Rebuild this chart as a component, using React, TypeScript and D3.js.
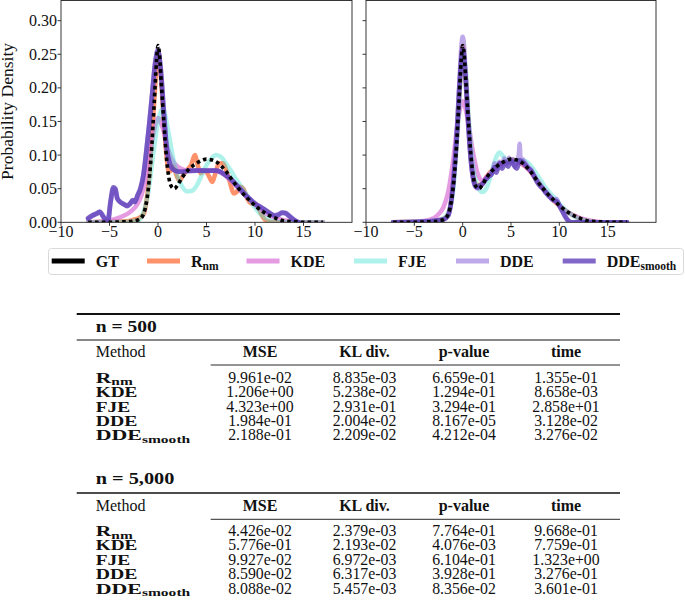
import React from 'react';
import * as d3 from 'd3';

type Pt = [number, number];

// ---------- axis ticks ----------
const xTickValues = [-10, -5, 0, 5, 10, 15];
const yTickValues = [0, 0.05, 0.1, 0.15, 0.2, 0.25, 0.3];

// ---------- density curves (x, density) ----------
const gtDensity: Pt[] = [
  [-7.2, 0], [-5, 0], [-4, 0.0005], [-3, 0.001], [-2.5, 0.002], [-2, 0.004], [-1.6, 0.009], [-1.3, 0.022],
  [-1.0, 0.05], [-0.7, 0.1], [-0.4, 0.175], [-0.15, 0.24], [0, 0.263], [0.15, 0.25], [0.35, 0.205], [0.6, 0.15],
  [0.85, 0.1], [1.1, 0.068], [1.4, 0.053], [1.7, 0.05], [2.0, 0.055], [2.5, 0.067], [3.0, 0.076], [3.5, 0.083],
  [4.0, 0.088], [4.5, 0.092], [5.0, 0.094], [5.5, 0.093], [6.0, 0.09], [6.5, 0.084], [7.0, 0.076], [7.5, 0.066],
  [8.0, 0.056], [8.5, 0.047], [9.0, 0.039], [9.5, 0.032], [10.0, 0.025], [10.5, 0.019], [11.0, 0.014], [11.5, 0.01],
  [12.0, 0.007], [12.5, 0.004], [13.0, 0.002], [14.0, 0.001], [15.0, 0], [17.0, 0],
];

// n = 500
const rnm500: Pt[] = [
  [-7.2, 0], [-5, 0.001], [-3, 0.002], [-2.5, 0.004], [-2, 0.006], [-1.5, 0.012], [-1.2, 0.03], [-0.9, 0.07],
  [-0.6, 0.13], [-0.3, 0.2], [0, 0.255], [0.3, 0.215], [0.6, 0.15], [0.9, 0.095], [1.1, 0.075], [1.4, 0.078],
  [1.6, 0.084], [1.9, 0.07], [2.2, 0.062], [2.6, 0.07], [3.0, 0.078], [3.4, 0.085], [3.8, 0.1], [4.1, 0.085],
  [4.4, 0.073], [4.8, 0.078], [5.2, 0.07], [5.6, 0.06], [5.9, 0.072], [6.3, 0.088], [6.7, 0.088], [7.1, 0.075],
  [7.5, 0.055], [7.8, 0.043], [8.1, 0.045], [8.5, 0.053], [8.8, 0.05], [9.2, 0.035], [9.6, 0.028], [10, 0.027],
  [10.4, 0.02], [10.8, 0.008], [11.2, 0.002], [12, 0], [17, 0],
];
const kde500: Pt[] = [
  [-7.2, 0], [-6, 0.001], [-5, 0.003], [-4, 0.007], [-3.5, 0.01], [-3, 0.014], [-2.5, 0.02], [-2, 0.03],
  [-1.5, 0.05], [-1, 0.085], [-0.5, 0.13], [0, 0.155], [0.5, 0.14], [1, 0.11], [1.5, 0.092], [2, 0.083],
  [2.5, 0.079], [3, 0.077], [4, 0.077], [5, 0.077], [6, 0.076], [6.5, 0.074], [7, 0.069], [7.5, 0.062],
  [8, 0.055], [8.5, 0.047], [9, 0.04], [9.5, 0.033], [10, 0.026], [10.5, 0.02], [11, 0.014], [11.5, 0.01],
  [12, 0.007], [12.5, 0.005], [13, 0.003], [13.5, 0.002], [14, 0.001], [15, 0], [17, 0],
];
const fje500: Pt[] = [
  [-7.2, 0], [-3, 0.001], [-2, 0.003], [-1.5, 0.015], [-1, 0.045], [-0.5, 0.1], [0, 0.15], [0.5, 0.17],
  [1.0, 0.14], [1.5, 0.1], [2.0, 0.07], [2.5, 0.053], [3.0, 0.046], [3.5, 0.047], [4, 0.055], [4.5, 0.07],
  [5, 0.085], [5.5, 0.095], [6, 0.1], [6.5, 0.097], [7, 0.088], [7.5, 0.077], [8, 0.065], [8.5, 0.055],
  [9, 0.044], [9.5, 0.033], [10, 0.022], [10.5, 0.013], [11, 0.007], [11.5, 0.003], [12, 0.001], [13, 0], [17, 0],
];
const dde500: Pt[] = [
  [-7.2, 0.005], [-6.8, 0.009], [-6.3, 0.014], [-6.0, 0.015], [-5.7, 0.009], [-5.4, 0.004], [-5.15, 0.004],
  [-4.9, 0.028], [-4.6, 0.05], [-4.4, 0.048], [-4.2, 0.035], [-3.9, 0.031], [-3.5, 0.026], [-3.2, 0.025],
  [-2.9, 0.028], [-2.6, 0.032], [-2.4, 0.031], [-2.1, 0.041], [-1.8, 0.052], [-1.5, 0.072], [-1.2, 0.108],
  [-0.9, 0.148], [-0.6, 0.192], [-0.3, 0.238], [0, 0.258], [0.3, 0.222], [0.6, 0.16], [0.9, 0.108],
  [1.2, 0.086], [1.5, 0.079], [2.0, 0.075], [2.5, 0.076], [3.0, 0.077], [4.0, 0.078], [5.0, 0.076],
  [6.0, 0.078], [6.5, 0.074], [7.0, 0.069], [7.5, 0.065], [8.0, 0.056], [8.5, 0.05], [9.0, 0.04],
  [9.5, 0.035], [10.0, 0.027], [10.5, 0.024], [11.0, 0.018], [11.5, 0.013], [12.0, 0.011], [12.4, 0.012],
  [12.8, 0.015], [13.1, 0.013], [13.5, 0.009], [14.0, 0.004], [14.5, 0],
];
const ddeSmooth500: Pt[] = [
  [-7.2, 0.006], [-6.8, 0.01], [-6.3, 0.013], [-6.0, 0.016], [-5.7, 0.01], [-5.4, 0.004], [-5.15, 0.003],
  [-4.9, 0.03], [-4.6, 0.052], [-4.4, 0.05], [-4.2, 0.036], [-3.9, 0.03], [-3.5, 0.027], [-3.2, 0.024],
  [-2.9, 0.027], [-2.6, 0.033], [-2.4, 0.03], [-2.1, 0.04], [-1.8, 0.05], [-1.5, 0.07], [-1.2, 0.105],
  [-0.9, 0.145], [-0.6, 0.19], [-0.3, 0.235], [0, 0.255], [0.3, 0.225], [0.6, 0.165], [0.9, 0.11],
  [1.2, 0.088], [1.5, 0.08], [2.0, 0.076], [2.5, 0.075], [3.0, 0.076], [4.0, 0.077], [5.0, 0.077],
  [6.0, 0.077], [6.5, 0.075], [7.0, 0.07], [7.5, 0.064], [8.0, 0.057], [8.5, 0.049], [9.0, 0.041],
  [9.5, 0.034], [10.0, 0.028], [10.5, 0.023], [11.0, 0.019], [11.5, 0.014], [12.0, 0.01], [12.4, 0.011],
  [12.8, 0.014], [13.1, 0.014], [13.5, 0.01], [14.0, 0.004], [14.5, 0],
];

// n = 5,000
const rnm5000: Pt[] = [
  [-7.2, 0], [-3, 0.002], [-2, 0.005], [-1.5, 0.012], [-1.2, 0.03], [-0.9, 0.07], [-0.6, 0.125], [-0.3, 0.2],
  [0, 0.262], [0.3, 0.22], [0.6, 0.15], [0.9, 0.09], [1.2, 0.062], [1.5, 0.055], [2, 0.057], [2.5, 0.068],
  [3, 0.077], [3.5, 0.083], [4, 0.088], [4.5, 0.09], [5, 0.093], [5.5, 0.092], [6, 0.088], [6.5, 0.083],
  [7, 0.076], [7.5, 0.066], [8, 0.056], [8.5, 0.047], [9, 0.039], [9.5, 0.031], [10, 0.025], [10.5, 0.019],
  [11, 0.014], [11.5, 0.01], [12, 0.006], [13, 0.002], [14, 0], [17, 0],
];
const kde5000: Pt[] = [
  [-7.2, 0], [-4, 0.002], [-3, 0.006], [-2.5, 0.012], [-2, 0.022], [-1.5, 0.045], [-1, 0.09], [-0.5, 0.15],
  [0, 0.18], [0.5, 0.155], [1, 0.11], [1.5, 0.075], [2, 0.062], [2.5, 0.068], [3, 0.076], [3.5, 0.083],
  [4, 0.087], [4.5, 0.09], [5, 0.091], [5.5, 0.09], [6, 0.088], [6.5, 0.083], [7, 0.076], [7.5, 0.067],
  [8, 0.057], [8.5, 0.048], [9, 0.04], [9.5, 0.032], [10, 0.025], [10.5, 0.019], [11, 0.014], [12, 0.007],
  [13, 0.003], [14, 0.001], [15, 0], [17, 0],
];
const fje5000: Pt[] = [
  [-7.2, 0], [-3, 0.002], [-2, 0.006], [-1.5, 0.014], [-1, 0.045], [-0.5, 0.14], [0, 0.25], [0.3, 0.23],
  [0.6, 0.16], [1, 0.09], [1.5, 0.055], [2, 0.045], [2.5, 0.052], [3, 0.075], [3.5, 0.098], [3.8, 0.104],
  [4.2, 0.098], [4.6, 0.092], [5, 0.09], [5.5, 0.091], [6, 0.092], [6.5, 0.091], [7, 0.085], [7.5, 0.075],
  [8, 0.064], [8.5, 0.053], [9, 0.044], [9.5, 0.036], [10, 0.028], [10.5, 0.02], [11, 0.014], [11.5, 0.009],
  [12, 0.005], [13, 0.002], [14, 0], [17, 0],
];
const dde5000: Pt[] = [
  [-7.2, 0], [-4, 0.001], [-3, 0.002], [-2, 0.004], [-1.5, 0.01], [-1.2, 0.03], [-0.9, 0.075], [-0.6, 0.14],
  [-0.3, 0.22], [-0.1, 0.268], [0, 0.276], [0.15, 0.262], [0.3, 0.22], [0.5, 0.17], [0.7, 0.12], [0.9, 0.085],
  [1.1, 0.065], [1.3, 0.053], [1.6, 0.05], [1.9, 0.054], [2.2, 0.06], [2.5, 0.066], [2.8, 0.07], [3.1, 0.074],
  [3.3, 0.088], [3.5, 0.078], [3.8, 0.09], [4.0, 0.083], [4.3, 0.095], [4.5, 0.086], [4.8, 0.096], [5.0, 0.088],
  [5.2, 0.094], [5.4, 0.082], [5.6, 0.09], [5.8, 0.1], [5.9, 0.117], [6.0, 0.09], [6.2, 0.094], [6.5, 0.088],
  [6.8, 0.082], [7.1, 0.078], [7.4, 0.07], [7.7, 0.062], [8.0, 0.056], [8.3, 0.05], [8.6, 0.045], [9.0, 0.038],
  [9.4, 0.032], [9.7, 0.035], [10, 0.026], [10.3, 0.018], [10.6, 0.01], [10.9, 0.004], [11.2, 0], [17, 0],
];
const ddeSmooth5000: Pt[] = [
  [-7.2, 0], [-4, 0.001], [-3, 0.002], [-2, 0.004], [-1.5, 0.01], [-1.2, 0.03], [-0.9, 0.07], [-0.6, 0.13],
  [-0.3, 0.21], [0, 0.258], [0.3, 0.215], [0.6, 0.14], [0.9, 0.085], [1.2, 0.058], [1.5, 0.052], [1.8, 0.055],
  [2.1, 0.058], [2.4, 0.064], [2.7, 0.068], [3.0, 0.072], [3.3, 0.082], [3.5, 0.074], [3.8, 0.088], [4.1, 0.08],
  [4.4, 0.09], [4.7, 0.083], [5.0, 0.092], [5.3, 0.085], [5.6, 0.08], [5.9, 0.092], [6.2, 0.09], [6.5, 0.085],
  [6.8, 0.08], [7.1, 0.076], [7.4, 0.068], [7.7, 0.06], [8.0, 0.054], [8.3, 0.05], [8.6, 0.044], [9.0, 0.038],
  [9.4, 0.033], [9.8, 0.03], [10.1, 0.022], [10.4, 0.014], [10.7, 0.006], [11.0, 0.001], [11.3, 0], [17, 0],
];

// ---------- tables ----------
const methodNames = ['R', 'KDE', 'FJE', 'DDE', 'DDE'];
const methodSubs = ['nm', '', '', '', 'smooth'];
const columnHeaders = ['MSE', 'KL div.', 'p-value', 'time'];

const mse500 = ['9.961e-02', '1.206e+00', '4.323e+00', '1.984e-01', '2.188e-01'];
const kl500 = ['8.835e-03', '5.238e-02', '2.931e-01', '2.004e-02', '2.209e-02'];
const pValue500 = ['6.659e-01', '1.294e-01', '3.294e-01', '8.167e-05', '4.212e-04'];
const time500 = ['1.355e-01', '8.658e-03', '2.858e+01', '3.128e-02', '3.276e-02'];

const mse5000 = ['4.426e-02', '5.776e-01', '9.927e-02', '8.590e-02', '8.088e-02'];
const kl5000 = ['2.379e-03', '2.193e-02', '6.972e-03', '6.317e-03', '5.457e-03'];
const pValue5000 = ['7.764e-01', '4.076e-03', '6.104e-01', '3.928e-01', '8.356e-02'];
const time5000 = ['9.668e-01', '7.759e-01', '1.323e+00', '3.276e-01', '3.601e-01'];

// ---------- styles ----------
const SERIF = '"Liberation Serif", "Times New Roman", serif';

const seriesStyles = [
  { key: 'Rnm', name: 'R', sub: 'nm', color: '#FF7F50', opacity: 0.85, width: 4.5, dash: undefined as string | undefined },
  { key: 'KDE', name: 'KDE', sub: '', color: '#DA70D6', opacity: 0.7, width: 4.5, dash: undefined },
  { key: 'FJE', name: 'FJE', sub: '', color: '#40E0D0', opacity: 0.42, width: 4.5, dash: undefined },
  { key: 'DDE', name: 'DDE', sub: '', color: '#9370DB', opacity: 0.6, width: 4.5, dash: undefined },
  { key: 'DDEs', name: 'DDE', sub: 'smooth', color: '#5E3DB8', opacity: 0.78, width: 4.8, dash: undefined },
  { key: 'GT', name: 'GT', sub: '', color: '#000000', opacity: 1, width: 3.6, dash: '3.6 3.2' },
];
const legendOrder = ['GT', 'Rnm', 'KDE', 'FJE', 'DDE', 'DDEs'];
const legendStarts = [51.7, 147, 246.5, 354, 456, 562.7];

const Y_BOTTOM = 222.3;
const Y_TOP = 0.5;

function Panel({ x0, x1, curves, showYLabels, id }: { x0: number; x1: number; curves: Record<string, Pt[]>; showYLabels: boolean; id: string }) {
  const x = d3.scaleLinear().domain([-10, 20]).range([x0, x1]);
  const y = d3.scaleLinear().domain([0, 0.33]).range([Y_BOTTOM, Y_TOP]);
  const line = d3
    .line<Pt>()
    .x((d) => x(d[0]))
    .y((d) => y(d[1]))
    .curve(d3.curveMonotoneX);
  const fmtY = d3.format('.2f');
  const fmtX = (v: number) => (v < 0 ? '\u2212' + Math.abs(v) : String(v));
  return (
    <g>
      <defs>
        <clipPath id={id}>
          <rect x={x0} y={Y_TOP} width={x1 - x0} height={Y_BOTTOM - Y_TOP} />
        </clipPath>
      </defs>
      <g clipPath={`url(#${id})`}>
        {seriesStyles.map((s) => (
          <path
            key={s.key}
            d={line(curves[s.key]) || ''}
            fill="none"
            stroke={s.color}
            strokeOpacity={s.opacity}
            strokeWidth={s.width}
            strokeDasharray={s.dash}
            strokeLinejoin="round"
            strokeLinecap={s.dash ? 'butt' : 'round'}
          />
        ))}
      </g>
      <rect x={x0} y={Y_TOP} width={x1 - x0} height={Y_BOTTOM - Y_TOP} fill="none" stroke="#222" strokeWidth={0.9} />
      {xTickValues.map((v) => (
        <g key={'x' + v}>
          <line x1={x(v)} x2={x(v)} y1={Y_BOTTOM} y2={Y_BOTTOM + 3.5} stroke="#222" strokeWidth={0.9} />
          <text x={x(v)} y={237} textAnchor="middle" fontFamily={SERIF} fontSize={16} fill="#111">
            {fmtX(v)}
          </text>
        </g>
      ))}
      {yTickValues.map((v) => (
        <g key={'y' + v}>
          <line x1={x0 - 3.5} x2={x0} y1={y(v)} y2={y(v)} stroke="#222" strokeWidth={0.9} />
          {showYLabels && (
            <text x={x0 - 4} y={y(v) + 5.5} textAnchor="end" fontFamily={SERIF} fontSize={16} fill="#111">
              {fmtY(v)}
            </text>
          )}
        </g>
      ))}
    </g>
  );
}

function Table({
  titleY, title, titleWidth, topRule, ruleY, ruleW, headerY, partialY, rowY0, cols,
}: {
  titleY: number; title: string; titleWidth: number; topRule: number | null; ruleY: number; ruleW: number;
  headerY: number; partialY: number; rowY0: number; cols: string[][];
}) {
  const colX = [260, 364.5, 464, 566];
  const rowStep = 14.4;
  const labelWidths = [37, 41.7, 34.5, 41.7, 94.5];
  const left = 76.7;
  const right = 620;
  return (
    <g fontFamily={SERIF} fill="#111">
      {topRule !== null && <line x1={left} x2={right} y1={topRule} y2={topRule} stroke="#111" strokeWidth={1.8} />}
      <text x={95.7} y={titleY} fontWeight="bold" fontSize={16} textLength={titleWidth} lengthAdjust="spacingAndGlyphs">
        {title}
      </text>
      <line x1={left} x2={right} y1={ruleY} y2={ruleY} stroke="#111" strokeWidth={ruleW} />
      <text x={95.7} y={headerY} fontSize={16}>Method</text>
      {columnHeaders.map((h, i) => (
        <text key={h} x={colX[i]} y={headerY} fontSize={16} fontWeight="bold" textAnchor="middle">
          {h}
        </text>
      ))}
      <line x1={210.7} x2={right} y1={partialY} y2={partialY} stroke="#111" strokeWidth={0.9} />
      {methodNames.map((m, r) => (
        <text
          key={'m' + r}
          x={95.7}
          y={rowY0 + r * rowStep}
          fontSize={15.5}
          fontWeight="bold"
          textLength={labelWidths[r]}
          lengthAdjust="spacingAndGlyphs"
        >
          {m}
          {methodSubs[r] && (
            <tspan fontSize={11} dy={2.5}>
              {methodSubs[r]}
            </tspan>
          )}
        </text>
      ))}
      {cols.map((col, c) =>
        col.map((v, r) => (
          <text key={c + '-' + r} x={colX[c]} y={rowY0 + r * rowStep} fontSize={15.8} textAnchor="middle">
            {v}
          </text>
        ))
      )}
    </g>
  );
}

export default function App() {
  const curves500: Record<string, Pt[]> = {
    GT: gtDensity, Rnm: rnm500, KDE: kde500, FJE: fje500, DDE: dde500, DDEs: ddeSmooth500,
  };
  const curves5000: Record<string, Pt[]> = {
    GT: gtDensity, Rnm: rnm5000, KDE: kde5000, FJE: fje5000, DDE: dde5000, DDEs: ddeSmooth5000,
  };
  const legendY = 261;
  return (
    <div style={{ position: 'absolute', left: 0, top: 0 }}>
      <svg width={685} height={601} viewBox="0 0 685 601" style={{ display: 'block', background: '#fff' }}>
        <rect x={0} y={0} width={685} height={601} fill="#fff" />
        <Panel x0={61} x1={352} curves={curves500} showYLabels={true} id="clipL" />
        <Panel x0={366} x1={656} curves={curves5000} showYLabels={false} id="clipR" />
        <text
          transform={`translate(13,111.4) rotate(-90)`}
          textAnchor="middle"
          fontFamily={SERIF}
          fontSize={16}
          fill="#111"
          textLength={137}
          lengthAdjust="spacingAndGlyphs"
        >
          Probability Density
        </text>

        {/* legend */}
        <rect x={48.5} y={248.5} width={635} height={26} rx={3} fill="#fff" fillOpacity={0.8} stroke="#d9d9d9" strokeWidth={1} />
        {legendOrder.map((k, i) => {
          const s = seriesStyles.find((d) => d.key === k)!;
          const lx = legendStarts[i];
          return (
            <g key={'lg' + k}>
              <line
                x1={lx}
                x2={lx + 33}
                y1={legendY}
                y2={legendY}
                stroke={s.color}
                strokeOpacity={s.opacity}
                strokeWidth={5}
              />
              <text x={lx + 44} y={legendY + 5.5} fontFamily={SERIF} fontSize={16} fontWeight="bold" fill="#111">
                {s.name}
                {s.sub && (
                  <tspan fontSize={11.5} dy={3}>
                    {s.sub}
                  </tspan>
                )}
              </text>
            </g>
          );
        })}

        <Table
          titleY={331.5}
          title="n = 500"
          titleWidth={61}
          topRule={314}
          ruleY={340}
          ruleW={1}
          headerY={357}
          partialY={365}
          rowY0={382.7}
          cols={[mse500, kl500, pValue500, time500]}
        />
        <Table
          titleY={484.2}
          title="n = 5,000"
          titleWidth={78.7}
          topRule={null}
          ruleY={493}
          ruleW={1.4}
          headerY={511}
          partialY={519.3}
          rowY0={536}
          cols={[mse5000, kl5000, pValue5000, time5000]}
        />
      </svg>
    </div>
  );
}
